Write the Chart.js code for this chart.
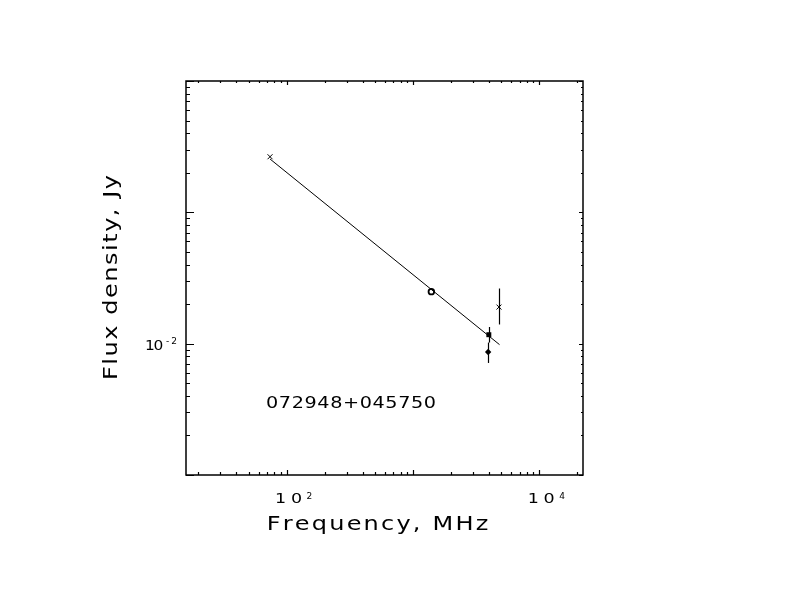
<!DOCTYPE html>
<html>
<head>
<meta charset="utf-8">
<script src="https://cdn.jsdelivr.net/npm/chart.js@4.4.0/dist/chart.umd.min.js"></script>
<style>
  html, body { margin: 0; padding: 0; background: #fff; }
  canvas { display: block; }
</style>
</head>
<body>
<canvas id="sedChart" width="792" height="612"></canvas>
<script>
// Chart text
const sourceName = "072948+045750";
const xTitle = "Frequency, MHz";
const yTitle = "Flux density, Jy";

// Axis ranges (MHz, Jy) and labelled decades
const xRange = [16, 22200];
const yRange = [0.001, 1];
const xTickLabels = [{ value: 100, exp: "2" }, { value: 10000, exp: "4" }];
const yTickLabels = [{ value: 0.01, exp: "-2" }];

// Measurements: frequency (MHz), flux (Jy), error bar ends (Jy)
const crossFreq = [74, 4800];
const crossFlux = [0.265, 0.0190];
const crossErrLo = [null, 0.0140];
const crossErrHi = [null, 0.0263];

const circleFreq = [1400];
const circleFlux = [0.0249];

const squareFreq = [3990];
const squareFlux = [0.0117];
const squareErrLo = [0.0102];
const squareErrHi = [0.0134];

const diamondFreq = [3940];
const diamondFlux = [0.00863];
const diamondErrLo = [0.00713];
const diamondErrHi = [0.0102];

// Power-law fit, drawn between its two ends
const fitFreq = [74, 4850];
const fitFlux = [0.2547, 0.00983];

function toPoints(xs, ys) {
    return xs.map((x, i) => ({ x: x, y: ys[i] }));
}

function logSteps(range) {
    let steps = [];
    let d0 = Math.floor(Math.log10(range[0]));
    let d1 = Math.ceil(Math.log10(range[1]));
    for (let d = d0; d <= d1; d++) {
        for (let m = 1; m <= 9; m++) {
            let v = m * Math.pow(10, d);
            if (v >= range[0] * 0.9999 && v <= range[1] * 1.0001) steps.push({ value: v, major: m === 1 });
        }
    }
    return steps;
}

// draw a string widened to a given width (stroke-font look):
// glyphs are stretched a little, the rest goes into the gaps
function drawSpaced(ctx, str, left, baseline, width, stretch) {
    stretch = stretch || 1;
    let chars = [...str];
    let widths = chars.map(ch => ctx.measureText(ch).width * stretch);
    let total = widths.reduce((s, w) => s + w, 0);
    let gap = chars.length > 1 ? (width - total) / (chars.length - 1) : 0;
    let cx = left;
    chars.forEach((ch, i) => {
        ctx.save();
        ctx.translate(cx, baseline);
        ctx.scale(stretch, 1);
        ctx.fillText(ch, 0, 0);
        ctx.restore();
        cx += widths[i] + gap;
    });
}

const errorBars = {
    id: "errorBars",
    afterDatasetsDraw(chart) {
        let ctx = chart.ctx;
        let { x, y } = chart.scales;
        ctx.save();
        ctx.strokeStyle = "#000";
        ctx.lineWidth = 1.2;
        chart.data.datasets.forEach(ds => {
            if (!ds.errLo) return;
            ds.data.forEach((p, i) => {
                if (ds.errLo[i] == null) return;
                let px = Math.round(x.getPixelForValue(p.x)) + 0.5;
                ctx.beginPath();
                ctx.moveTo(px, y.getPixelForValue(ds.errLo[i]));
                ctx.lineTo(px, y.getPixelForValue(ds.errHi[i]));
                ctx.stroke();
            });
        });
        ctx.restore();
    }
};

const frameAndText = {
    id: "frameAndText",
    afterDraw(chart) {
        let ctx = chart.ctx;
        let a = chart.chartArea;
        let { x, y } = chart.scales;
        ctx.save();
        ctx.strokeStyle = "#000";
        ctx.fillStyle = "#000";

        ctx.lineWidth = 1.5;
        ctx.strokeRect(a.left, a.top, a.right - a.left, a.bottom - a.top);

        // inward ticks on all four sides
        ctx.lineWidth = 1.2;
        ctx.beginPath();
        logSteps(xRange).forEach(t => {
            let px = Math.round(x.getPixelForValue(t.value)) + 0.5;
            ctx.moveTo(px, a.bottom);
            ctx.lineTo(px, a.bottom - (t.major ? 5 : 3));
            ctx.moveTo(px, a.top);
            ctx.lineTo(px, a.top + (t.major ? 4 : 2));
        });
        logSteps(yRange).forEach(t => {
            let py = Math.round(y.getPixelForValue(t.value)) + 0.5;
            ctx.moveTo(a.left, py);
            ctx.lineTo(a.left + (t.major ? 8 : 4), py);
            ctx.moveTo(a.right, py);
            ctx.lineTo(a.right - (t.major ? 4 : 2), py);
        });
        ctx.stroke();

        ctx.textAlign = "left";
        ctx.textBaseline = "alphabetic";

        // tick labels
        xTickLabels.forEach(t => {
            let px = x.getPixelForValue(t.value);
            ctx.font = "14px 'DejaVu Sans'";
            drawSpaced(ctx, "10", px - 11.5, a.bottom + 28, 27, 1.25);
            ctx.font = "9px 'DejaVu Sans'";
            ctx.fillText(t.exp, px + 20, a.bottom + 24);
        });
        yTickLabels.forEach(t => {
            let py = y.getPixelForValue(t.value);
            ctx.font = "14px 'DejaVu Sans'";
            drawSpaced(ctx, "10", a.left - 41, py + 6, 18.3, 1.1);
            ctx.font = "9px 'DejaVu Sans'";
            drawSpaced(ctx, t.exp, a.left - 20, py, 11);
        });

        // axis titles
        ctx.font = "20px 'DejaVu Sans'";
        drawSpaced(ctx, xTitle, 266.7, 530, 221.6, 1.2);
        ctx.save();
        ctx.translate(116.7, 380);
        ctx.rotate(-Math.PI / 2);
        drawSpaced(ctx, yTitle, 0, 0, 205, 1.2);
        ctx.restore();

        // source name
        ctx.font = "16px 'DejaVu Sans'";
        drawSpaced(ctx, sourceName, 266, 408.3, 170, 1.2);

        ctx.restore();
    }
};

new Chart(document.getElementById("sedChart").getContext("2d"), {
    type: "scatter",
    data: {
        datasets: [
            {
                label: "fit",
                type: "line",
                data: toPoints(fitFreq, fitFlux),
                borderColor: "#000",
                borderWidth: 1,
                pointRadius: 0,
                fill: false,
                tension: 0
            },
            {
                label: "cross",
                data: toPoints(crossFreq, crossFlux),
                errLo: crossErrLo,
                errHi: crossErrHi,
                pointStyle: "crossRot",
                pointRadius: 3.5,
                borderWidth: 1,
                borderColor: "#000"
            },
            {
                label: "circle",
                data: toPoints(circleFreq, circleFlux),
                pointStyle: "circle",
                pointRadius: 2.8,
                borderWidth: 1.8,
                borderColor: "#000",
                backgroundColor: "#fff"
            },
            {
                label: "square",
                data: toPoints(squareFreq, squareFlux),
                errLo: squareErrLo,
                errHi: squareErrHi,
                pointStyle: "rect",
                pointRadius: 3.5,
                borderWidth: 0,
                backgroundColor: "#000"
            },
            {
                label: "diamond",
                data: toPoints(diamondFreq, diamondFlux),
                errLo: diamondErrLo,
                errHi: diamondErrHi,
                pointStyle: "rectRot",
                pointRadius: 3.2,
                borderWidth: 0,
                backgroundColor: "#000"
            }
        ]
    },
    options: {
        responsive: false,
        devicePixelRatio: 1,
        animation: false,
        layout: { padding: { left: 186, right: 209, top: 81, bottom: 137 } },
        scales: {
            x: { type: "logarithmic", min: xRange[0], max: xRange[1], display: false },
            y: { type: "logarithmic", min: yRange[0], max: yRange[1], display: false }
        },
        plugins: {
            legend: { display: false },
            tooltip: { enabled: false }
        }
    },
    plugins: [errorBars, frameAndText]
});
</script>
</body>
</html>
